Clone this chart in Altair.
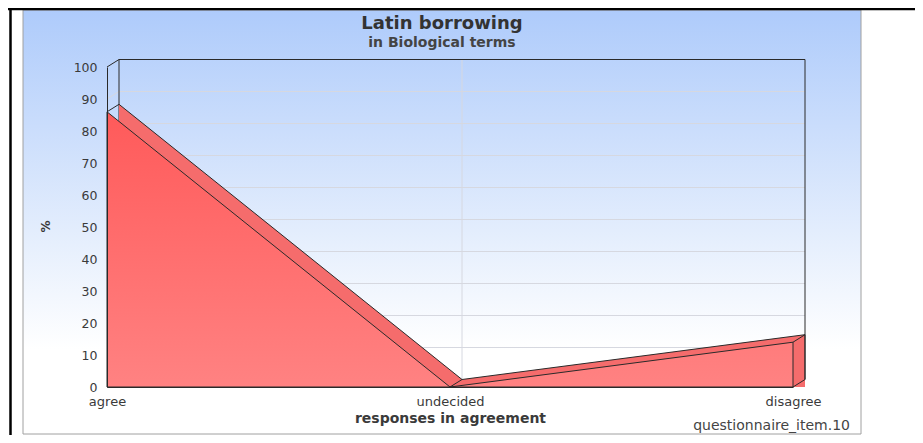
import altair as alt
import pandas as pd

# ---- data ----
categories = ["agree", "undecided", "disagree"]
values = [86, 0, 14]
y_ticks = [0, 10, 20, 30, 40, 50, 60, 70, 80, 90, 100]
title_text = "Latin borrowing"
subtitle_text = "in Biological terms"
x_title = "responses in agreement"
y_title = "%"
footer_text = "questionnaire_item.10"

# ---- style ----
DX, DY = 12, -7.5          # 3D depth offset in pixels
W, H = 686, 320
FONT = "DejaVu Sans"
TXT = "#3a3a3a"
EDGE = "#2a2a2a"
GRID = "#d6d8e0"

df = pd.DataFrame({"idx": list(range(len(categories))), "category": categories, "value": values})
grid_df = pd.DataFrame({"tick": [t for t in y_ticks if 0 < t < 100]})
one = alt.Data(values=[{"a": 0}])

xs = alt.Scale(domain=[0, len(categories) - 1], nice=False, zero=False)
ys = alt.Scale(domain=[0, 100], nice=False)
last = len(categories) - 1


def xd(v):
    return alt.XDatum(v, type="quantitative", scale=xs, axis=None)


def yd(v):
    return alt.YDatum(v, type="quantitative", scale=ys, axis=None)


def xf(f):
    return alt.X(f, type="quantitative", scale=xs, axis=None)


def yf(f):
    return alt.Y(f, type="quantitative", scale=ys, axis=None)


panel_grad = alt.Gradient(
    gradient="linear", x1=0, x2=0, y1=0, y2=1,
    stops=[alt.GradientStop(color="#aecbfb", offset=0),
           alt.GradientStop(color="#e6effd", offset=0.55),
           alt.GradientStop(color="#ffffff", offset=0.8),
           alt.GradientStop(color="#ffffff", offset=1)])
front_grad = alt.Gradient(
    gradient="linear", x1=0, x2=0, y1=0, y2=1,
    stops=[alt.GradientStop(color="#ff5a5a", offset=0),
           alt.GradientStop(color="#ff8282", offset=1)])

panel = alt.Chart(one).mark_rect(fill=panel_grad, stroke="#a0a0a0", strokeWidth=1).encode(
    x=alt.value(-84), x2=alt.value(754), y=alt.value(-57), y2=alt.value(367))

outer_left = alt.Chart(one).mark_rule(color="#000", strokeWidth=2.5).encode(
    x=alt.value(-96.5), y=alt.value(-59), y2=alt.value(368))
outer_top = alt.Chart(one).mark_rule(color="#000", strokeWidth=2.5).encode(
    x=alt.value(-99), x2=alt.value(808), y=alt.value(-58))

# back wall grid lines
back_grid = alt.Chart(grid_df).mark_rule(color=GRID, strokeWidth=1, xOffset=DX, x2Offset=DX,
                                         yOffset=DY, y2Offset=DY).encode(
    x=xd(0), x2=alt.X2Datum(last), y=yf("tick"), y2="tick:Q")
side_grid = alt.Chart(grid_df).mark_rule(color=GRID, strokeWidth=1, x2Offset=DX, y2Offset=DY).encode(
    x=xd(0), x2=alt.X2Datum(0), y=yf("tick"), y2="tick:Q")
mid_grid = alt.Chart(one).mark_rule(color=GRID, strokeWidth=1, xOffset=DX, x2Offset=DX,
                                    yOffset=DY, y2Offset=DY).encode(
    x=xd(1), x2=alt.X2Datum(1), y=yd(0), y2=alt.Y2Datum(100))

# back wall frame
frame_top = alt.Chart(one).mark_rule(color=EDGE, strokeWidth=1, xOffset=DX, x2Offset=DX,
                                     yOffset=DY, y2Offset=DY).encode(
    x=xd(0), x2=alt.X2Datum(last), y=yd(100), y2=alt.Y2Datum(100))
frame_left = alt.Chart(one).mark_rule(color=EDGE, strokeWidth=1, xOffset=DX, x2Offset=DX,
                                      yOffset=DY, y2Offset=DY).encode(
    x=xd(0), x2=alt.X2Datum(0), y=yd(0), y2=alt.Y2Datum(100))
frame_right = alt.Chart(one).mark_rule(color=EDGE, strokeWidth=1, xOffset=DX, x2Offset=DX,
                                       yOffset=DY, y2Offset=DY).encode(
    x=xd(last), x2=alt.X2Datum(last), y=yd(0), y2=alt.Y2Datum(100))
frame_diag = alt.Chart(one).mark_rule(color=EDGE, strokeWidth=1, x2Offset=DX, y2Offset=DY).encode(
    x=xd(0), x2=alt.X2Datum(0), y=yd(100), y2=alt.Y2Datum(100))

# back (top/side face) area, its top edge, and the side face edges
back_area = alt.Chart(df).mark_area(fill="#f56c6c", xOffset=DX, yOffset=DY).encode(
    x=xf("idx"), y=yf("value"), y2=alt.Y2Datum(0))
back_line = alt.Chart(df).mark_line(color=EDGE, strokeWidth=1, xOffset=DX, yOffset=DY).encode(
    x=xf("idx"), y=yf("value"))
side_right = alt.Chart(df).transform_filter(alt.datum.idx == last).mark_rule(
    color=EDGE, strokeWidth=1, xOffset=DX, x2Offset=DX, yOffset=DY, y2Offset=DY).encode(
    x=xf("idx"), x2="idx:Q", y=yf("value"), y2=alt.Y2Datum(0))
side_bottom = alt.Chart(one).mark_rule(color=EDGE, strokeWidth=1, x2Offset=DX, y2Offset=DY).encode(
    x=xd(last), x2=alt.X2Datum(last), y=yd(0), y2=alt.Y2Datum(0))

label_expr = "[" + ",".join("'" + c + "'" for c in categories) + "][datum.value]"

front_area = alt.Chart(df).mark_area(fill=front_grad, stroke=EDGE, strokeWidth=1).encode(
    x=alt.X("idx:Q", scale=xs, axis=alt.Axis(
        values=list(range(len(categories))), labelExpr=label_expr, ticks=False, grid=False,
        domain=True, domainColor=EDGE, domainWidth=1, labelFont=FONT, labelFontSize=13,
        labelColor=TXT, labelPadding=8, labelOverlap=False, labelFlush=False,
        title=x_title, titleFont=FONT, titleFontSize=14, titleFontWeight="bold",
        titleColor=TXT, titleY=35, titleBaseline="alphabetic", zindex=1)),
    y=alt.Y("value:Q", scale=ys, axis=alt.Axis(
        values=y_ticks, ticks=False, grid=False, domain=True, domainColor=EDGE, domainWidth=1,
        labelFont=FONT, labelFontSize=12.5, labelColor=TXT, labelPadding=10, labelOverlap=False,
        title=y_title, titleFont=FONT, titleFontSize=12, titleFontWeight="bold", titleColor=TXT,
        titleX=-62, titleY=159, titleAngle=270, titleBaseline="middle", zindex=1)),
    tooltip=["category:N", "value:Q"])

edges = alt.Chart(df).mark_rule(color=EDGE, strokeWidth=1, x2Offset=DX, y2Offset=DY).encode(
    x=xf("idx"), x2="idx:Q", y=yf("value"), y2="value:Q")

title = alt.Chart(one).mark_text(text=title_text, font=FONT, fontSize=18, fontWeight="bold",
                                 color="#333", align="center", baseline="alphabetic").encode(
    x=alt.value(335), y=alt.value(-38))
subtitle = alt.Chart(one).mark_text(text=subtitle_text, font=FONT, fontSize=14, fontWeight="bold",
                                    color="#444", align="center", baseline="alphabetic").encode(
    x=alt.value(335), y=alt.value(-20))
footer = alt.Chart(one).mark_text(text=footer_text, font=FONT, fontSize=14, color="#444",
                                  align="right", baseline="alphabetic").encode(
    x=alt.value(743), y=alt.value(363))

chart = alt.layer(
    panel, outer_left, outer_top,
    back_grid, side_grid, mid_grid,
    frame_top, frame_left, frame_diag,
    back_area, back_line, side_right, side_bottom, frame_right,
    front_area, edges,
    title, subtitle, footer,
).resolve_axis(x="independent", y="independent").properties(
    width=W, height=H,
    padding={"left": 99, "top": 59, "right": 122, "bottom": 48},
    autosize=alt.AutoSizeParams(type="none"),
    background="white",
).configure_view(stroke=None)

chart.save("out.html", embed_options={"renderer": "svg", "actions": False})
